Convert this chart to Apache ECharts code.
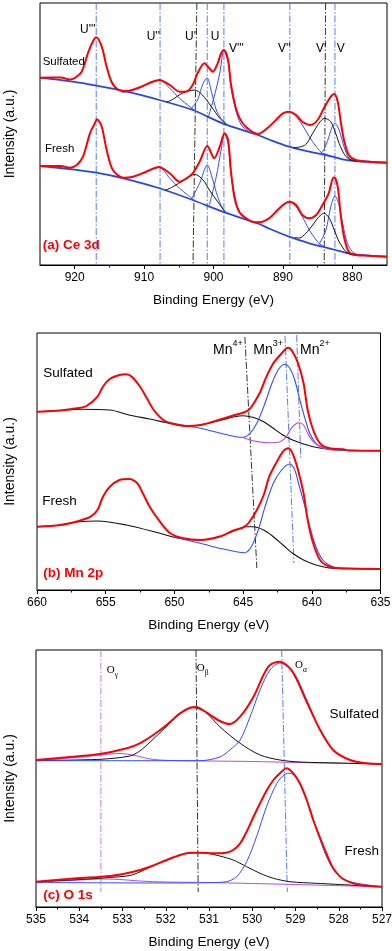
<!DOCTYPE html>
<html>
<head>
<meta charset="utf-8">
<title>XPS Ce 3d / Mn 2p / O 1s</title>
<script src="https://cdn.jsdelivr.net/npm/echarts@6/dist/echarts.min.js"></script>
<style>
  html, body { margin: 0; padding: 0; background: #fff; }
  #chart { width: 392px; height: 951px; }
</style>
</head>
<body>
<div id="chart"></div>
<script>
// ---------- (a) Ce 3d : [binding energy eV, intensity a.u.] ----------
const ceSulfEnv = [[925.0,187.3],[922.0,187.5],[920.7,185.5],[920.0,187],[919.0,193.3],[918.1,211.7],[917.4,223.3],[916.9,227.7],[916.1,218.3],[915.4,198.3],[914.7,183.3],[913.8,175.7],[912.5,174],[910.6,177.7],[908.8,183.3],[907.8,185],[906.3,180],[904.9,173.3],[903.9,173.5],[903.0,180],[902.3,191.7],[901.3,201.7],[900.6,196.7],[900.1,193.3],[899.4,201.7],[898.9,211.7],[898.5,215],[897.9,205],[897.5,181.7],[896.7,155],[895.8,141.7],[894.6,134],[893.6,131],[892.0,138.3],[891.0,145],[890.0,151.7],[889.1,153.3],[888.1,150],[887.2,143.3],[886.0,140],[885.0,145],[884.1,156.7],[883.1,168.3],[882.6,171],[882.1,163.3],[881.7,145],[881.2,125],[880.5,110],[879.5,105],[877.6,103.3],[875.0,102.3]];
const ceSulfBg = [[925.0,187.3],[920.3,183.3],[916.9,179.3],[912.5,173.3],[907.8,165],[903.0,155],[898.7,141.7],[893.6,130],[892.0,125.5],[889.1,118.3],[886.2,113.3],[883.8,110],[881.4,105.7],[879.5,104],[875.0,102.3]];
const ceSulfU2 = [[913.2,172.5],[912.0,173.8],[910.6,177.2],[908.8,183],[907.7,184.6],[906.3,176.7],[904.9,166.7],[903.4,158.3],[902.6,154]];
const ceSulfU1 = [[906.8,162.8],[905.9,165.5],[904.5,171.7],[902.7,175],[901.6,170],[900.3,158.3],[899.1,146.7],[898.2,141]];
const ceSulfU = [[903.3,155.5],[902.3,165],[901.5,181.7],[900.9,187],[900.3,173.3],[899.6,155],[898.9,146.7],[898.2,141.5]];
const ceSulfV3 = [[900.7,149],[899.9,168.3],[899.1,191.7],[898.5,214.3],[897.9,203.3],[897.5,178.3],[896.8,155],[896.0,140],[895.0,134]];
const ceSulfV2 = [[894.6,132.5],[893.6,131],[892.0,138.3],[891.0,145],[890.0,151.7],[889.1,153.3],[888.1,148.3],[887.2,140],[886.2,128.3],[885.2,118.3],[884.3,111.7],[883.5,109.8]];
const ceSulfV1 = [[888.5,117.3],[887.6,118],[886.7,120.5],[885.7,131.7],[884.8,141.7],[884.0,146.7],[883.1,143.3],[882.4,131.7],[881.7,118.3],[880.9,108.3],[880.0,104.5],[879.3,104]];
const ceSulfV = [[884.6,112],[884.3,113],[883.6,123.3],[882.9,138.3],[882.5,141.7],[881.9,135],[881.2,118.3],[880.5,106.7],[879.8,104.5]];

const ceFreshEnv = [[925.0,99],[922.0,99],[920.7,97.3],[919.7,100],[918.8,108.3],[917.8,131.7],[917.1,141.7],[916.8,145.7],[916.1,138.3],[915.4,115],[914.5,95],[913.0,87.3],[911.6,88.3],[909.7,93.3],[907.9,98],[906.3,91.7],[904.9,83.3],[903.9,86.7],[903.0,91.7],[902.0,103.3],[900.9,119],[900.2,110],[899.9,106.7],[899.1,118.3],[898.4,131.7],[897.9,125],[897.5,95],[897.0,68.3],[896.3,53.3],[895.3,46.7],[894.4,43.3],[893.4,42.7],[892.0,46.7],[891.0,53.3],[890.0,60],[889.1,63.3],[888.1,60],[887.2,50],[886.2,46.7],[885.2,50],[884.3,60],[883.4,71.7],[882.9,85],[882.6,87.7],[882.1,78.3],[881.7,51.7],[881.2,28.3],[880.5,13.3],[879.5,10],[877.6,9.3],[875.0,8.3]];
const ceFreshBg = [[925.0,99],[920.3,95.7],[916.9,92.3],[913.0,86.7],[907.9,77],[903.0,65],[898.7,53.3],[893.4,41],[892.0,36.5],[889.1,28.3],[886.2,21.7],[884.3,18.3],[882.4,15],[880.5,11.7],[877.6,9.3],[875.0,8.3]];
const ceFreshU2 = [[913.0,86.7],[911.6,88],[909.7,93],[907.8,97.5],[906.3,86.7],[904.9,76.7],[903.7,70],[902.8,65]];
const ceFreshU1 = [[907.0,74.5],[905.9,78],[904.2,85],[902.7,90.7],[901.5,85],[900.6,75],[899.4,63.3],[898.4,53.5]];
const ceFreshU = [[903.2,65.5],[902.0,81.7],[900.9,100],[900.1,85],[899.4,68.3],[898.7,56.7],[898.2,53]];
const ceFreshV3 = [[900.6,60],[899.6,88.3],[898.9,115],[898.4,131],[897.9,121.7],[897.5,91.7],[896.7,61.7],[896.0,50],[895.0,46]];
const ceFreshV2 = [[894.2,43],[893.4,42.7],[892.0,46.7],[891.0,53.3],[890.0,60],[889.1,63.3],[888.1,58.3],[887.2,48.3],[886.2,35],[885.2,25],[884.5,20],[883.9,18]];
const ceFreshV1 = [[888.3,27.5],[887.6,27],[886.7,31.7],[885.7,40],[884.8,48.3],[884.1,51.7],[883.3,46.7],[882.6,35],[881.9,23.3],[880.9,13.3],[880.0,10],[879.2,9.8]];
const ceFreshV = [[885.0,19.5],[884.8,20.5],[883.8,35],[883.1,58.3],[882.5,69],[881.9,60],[881.4,41.7],[880.7,21.7],[880.0,13.3],[879.5,11]];

const ceMarkTop = [916.9, 907.7, 902.4, 900.9, 898.5, 889.0, 883.85, 882.5];
const ceMarkBottom = [916.9, 907.7, 902.95, 900.9, 898.5, 889.0, 884.05, 882.5];
const ceMarkBlack = [false, false, true, false, false, false, true, false];
const ceLabels = ["U'''", "U''", "U'", "U", "V'''", "V''", "V'", "V"];
const ceTicks = [880, 890, 900, 910, 920];
const ceMinorTicks = [885, 895, 905, 915];

// ---------- (b) Mn 2p ----------
const mnSulfEnv = [[660.0,177.3],[658.3,178.5],[657.1,180.7],[656.4,183],[655.6,192.3],[655.2,202.3],[654.7,210],[654.0,214],[653.5,214.7],[653.1,212.3],[652.5,202.3],[652.0,190.7],[651.5,179],[650.8,169],[650.1,165.2],[649.1,163],[648.1,164],[646.9,168.5],[645.7,173.5],[645.0,176.3],[644.6,179],[644.3,184],[643.8,195.7],[643.3,212.3],[642.8,225.7],[642.3,234],[641.85,240.7],[641.7,241.3],[641.4,237.3],[641.0,225.7],[640.6,205.7],[640.3,179],[639.9,159],[639.4,145.7],[638.7,140.7],[637.7,139.7],[637.3,138.5],[635.0,138.3]];
const mnSulfBg = [[660.0,177.3],[658.3,178.5],[656.9,179.7],[654.7,179],[653.3,174],[651.8,170],[650.1,165],[649.1,163],[648.1,164],[646.7,168.5],[645.7,172],[645.0,173.3],[644.3,171.7],[643.5,167.3],[642.8,160.7],[642.1,154],[641.4,149],[640.6,145],[639.9,142.3],[638.9,140],[638.0,139],[635.0,138.3]];
const mnSulfMn3 = [[650.7,167],[648.1,160.7],[646.7,156],[645.5,152.3],[645.0,151.7],[644.5,155.7],[644.0,165.7],[643.5,182.3],[642.9,205.7],[642.45,219],[641.97,224.7],[641.6,220.7],[641.24,209],[640.9,190.7],[640.5,170.7],[640.15,155.7],[639.7,145.7],[639.2,141.7],[638.5,139.5],[637.5,138.5]];
const mnSulfMn2 = [[645.0,151.5],[644.3,148.3],[643.1,146.3],[642.3,147.3],[641.85,152.3],[641.5,160.7],[641.1,165.7],[640.9,166.3],[640.6,164],[640.3,155.7],[639.9,147.3],[639.4,142.3],[638.8,139.5],[638.0,138.8]];

const mnFreshEnv = [[660.0,62.3],[658.3,64],[656.9,68.3],[656.1,72.3],[655.6,79],[655.2,92.3],[654.7,102.3],[654.0,109],[653.3,110],[652.7,105.7],[652.3,95.7],[651.8,82.3],[651.05,67.3],[650.3,55.7],[649.35,50.7],[648.1,49],[646.7,52.5],[645.7,58.5],[645.0,61.5],[644.6,66],[644.0,79],[643.5,94],[643.1,112.3],[642.6,125.7],[642.1,137.3],[641.7,140.7],[641.4,135.7],[641.0,119],[640.6,95.7],[640.3,69],[639.9,45.7],[639.4,29],[638.7,22.3],[637.7,20.7],[635.0,20]];
const mnFreshBg = [[660.0,62.3],[658.3,64],[656.9,67.3],[655.6,68],[653.5,64],[651.05,55.7],[650.0,51.7],[648.9,49.5],[648.1,49],[646.7,52.3],[645.7,58],[644.75,62.3],[644.3,62.3],[643.5,59],[642.8,52.3],[642.1,44],[641.4,35.7],[640.6,29],[639.7,24],[638.5,20.7],[635.0,20]];
const mnFreshMn3 = [[650.1,52],[648.1,45.7],[646.7,40.7],[645.5,37.3],[644.9,36.3],[644.4,42.3],[643.9,59],[643.4,82.3],[642.8,105.7],[642.2,119],[641.6,125],[641.24,119],[640.9,102.3],[640.5,82.3],[640.15,62.3],[639.7,42.3],[639.2,29],[638.5,22.3],[637.6,20]];

const mnMarkTop = [644.87, 641.95, 641.1];
const mnMarkBottom = [644.0, 641.3, 640.8];
const mnMarkTopY = [252, 253, 254];
const mnMarkBottomY = [21, 26, 130];
const mnLabels = ['4+', '3+', '2+'];

// ---------- (c) O 1s ----------
const oSulfEnv = [[535.0,147],[534.29,149.7],[533.52,153],[532.9,158.7],[532.6,163.7],[532.29,172],[531.98,182],[531.67,193.7],[531.44,199.3],[531.3,200],[531.09,195.5],[530.75,186],[530.52,183],[530.28,190.3],[529.97,210.3],[529.74,232],[529.59,242],[529.36,245.3],[529.07,235.3],[528.76,207],[528.43,177],[528.13,157],[527.74,147],[527.35,143.7],[527.0,143]];
const oSulfOb = [[535.0,146.5],[533.52,147.7],[532.83,151],[532.6,156],[532.36,165],[532.02,179],[531.67,193],[531.37,199.3],[531.09,195],[530.75,180.3],[530.28,163.7],[529.82,152],[529.36,147],[528.9,145],[528.0,144],[527.0,143]];
const oSulfOg = [[535.0,146.5],[534.2,149],[533.52,152],[533.06,153.5],[532.71,151.5],[532.36,148],[531.9,146.5],[531.0,146],[530.0,145.5],[529.0,144.5],[528.0,143.7],[527.0,143]];
const oSulfOa = [[535.0,146.3],[533.0,146.3],[531.2,146.3],[530.75,150],[530.52,157],[530.28,167],[530.05,190.3],[529.82,217],[529.59,237],[529.36,244],[529.05,235],[528.74,207],[528.43,177],[528.13,157],[527.74,147],[527.35,143.7],[527.0,143]];

const oFreshEnv = [[535.0,25.3],[534.06,28.7],[533.29,31],[532.75,35.3],[532.36,40.3],[531.98,47],[531.67,52],[531.44,54.3],[531.21,54.3],[530.9,53.7],[530.6,54.3],[530.44,57],[530.28,63.7],[530.13,75.3],[529.97,90.3],[529.82,103.7],[529.66,117],[529.51,127],[529.36,133.7],[529.21,138.7],[529.05,133.7],[528.9,123.7],[528.74,107],[528.59,87],[528.43,69],[528.28,53],[528.13,39],[527.9,28],[527.51,22],[527.0,20.3]];
const oFreshOb = [[535.0,25.3],[533.98,27.5],[533.29,29.5],[532.83,31.5],[532.6,35],[532.36,40],[531.98,46.7],[531.67,52],[531.44,54],[531.21,54.3],[531.05,53.8],[530.75,51],[530.44,47],[530.13,40.3],[529.82,33.7],[529.51,28.7],[529.13,25.3],[528.51,23.7],[527.0,20.3]];
const oFreshOa = [[535.0,24.5],[532.0,24],[531.0,24.3],[530.6,25.3],[530.36,30.3],[530.13,45.3],[529.9,70.3],[529.67,100.3],[529.43,123.7],[529.24,133],[529.13,133.7],[528.97,128.7],[528.74,107],[528.51,77],[528.28,50],[528.05,33.5],[527.74,25.3],[527.0,20.3]];
const oFreshOg = [[535.0,25.3],[534.2,26.5],[533.52,28],[533.06,27.5],[532.6,26],[532.0,25],[531.0,24.5],[530.0,23.5],[529.0,22.5],[528.0,21.3],[527.0,20.3]];

const oMarkTop = [533.5, 531.3, 529.32];
const oMarkBottom = [533.5, 531.25, 529.19];
const oLabels = ['γ', 'β', 'α'];

// ---------- styling ----------
const RED = '#ff0000';
const BLUE = '#2f4dff';
const BASE_BLUE = '#2846e8';
const DASH_BLUE = '#5a78ff';
const BLACK = '#111111';
const MAGENTA = '#b54fd6';
const DASH_MAGENTA = '#c47de0';
const DASH = [7, 2, 1.5, 2];
const SANS = '"Liberation Sans", Arial, sans-serif';
const SERIF = '"Liberation Serif", "Times New Roman", serif';

// grid index -> main x axis index
const gridX = [0, 2, 3];

function curve(data, panel, color, width, z) {
  return {
    type: 'line', xAxisIndex: gridX[panel], yAxisIndex: panel, data: data,
    smooth: 0.3, symbol: 'none', silent: true, z: z,
    lineStyle: { color: color, width: width }
  };
}

function marker(eTop, eBottom, yTop, yBottom, panel, color) {
  return {
    type: 'line', xAxisIndex: gridX[panel], yAxisIndex: panel,
    data: [[eTop, yTop], [eBottom, yBottom]],
    symbol: 'none', silent: true, z: 1,
    lineStyle: { color: color, width: 1, type: DASH }
  };
}

const series = [];
// dash-dot reference lines
ceMarkTop.forEach((e, i) => series.push(marker(e, ceMarkBottom[i], 262, 1, 0, ceMarkBlack[i] ? '#333' : DASH_BLUE)));
mnMarkTop.forEach((e, i) => series.push(marker(e, mnMarkBottom[i], mnMarkTopY[i], mnMarkBottomY[i], 1, i === 0 ? '#333' : DASH_BLUE)));
const oMarkColors = [DASH_MAGENTA, '#333', DASH_BLUE];
oMarkTop.forEach((e, i) => series.push(marker(e, oMarkBottom[i], 257, 15, 2, oMarkColors[i])));

// (a) Ce 3d
[ceSulfBg, ceFreshBg].forEach(d => series.push(curve(d, 0, BASE_BLUE, 1.8, 3)));
[ceSulfU2, ceSulfU, ceSulfV3, ceSulfV2, ceSulfV, ceFreshU2, ceFreshU, ceFreshV3, ceFreshV2, ceFreshV]
  .forEach(d => series.push(curve(d, 0, BLUE, 1, 4)));
[ceSulfU1, ceSulfV1, ceFreshU1, ceFreshV1].forEach(d => series.push(curve(d, 0, BLACK, 1, 4)));
[ceSulfEnv, ceFreshEnv].forEach(d => series.push(curve(d, 0, RED, 2, 6)));

// (b) Mn 2p
[mnSulfBg, mnFreshBg].forEach(d => series.push(curve(d, 1, BLACK, 1.1, 3)));
[mnSulfMn3, mnFreshMn3].forEach(d => series.push(curve(d, 1, BLUE, 1.1, 4)));
series.push(curve(mnSulfMn2, 1, MAGENTA, 1.1, 4));
[mnSulfEnv, mnFreshEnv].forEach(d => series.push(curve(d, 1, RED, 2, 6)));

// (c) O 1s
[oSulfOg, oFreshOg].forEach(d => series.push(curve(d, 2, MAGENTA, 1, 3)));
[oSulfOb, oFreshOb].forEach(d => series.push(curve(d, 2, BLACK, 1, 4)));
[oSulfOa, oFreshOa].forEach(d => series.push(curve(d, 2, BLUE, 1, 4)));
[oSulfEnv, oFreshEnv].forEach(d => series.push(curve(d, 2, RED, 2, 6)));

// ---------- axes ----------
function energyAxis(grid, extra) {
  return Object.assign({
    gridIndex: grid, type: 'value', inverse: true, position: 'bottom',
    axisLine: { show: true, onZero: false, lineStyle: { color: '#000', width: 1 } },
    axisTick: { show: true, length: 4, lineStyle: { color: '#000' } },
    axisLabel: { fontSize: 12, color: '#000', margin: 7, fontFamily: SANS },
    splitLine: { show: false },
    name: 'Binding Energy (eV)', nameLocation: 'middle', nameGap: 28,
    nameTextStyle: { fontSize: 13.5, color: '#000', fontFamily: SANS }
  }, extra);
}

const xAxis = [
  energyAxis(0, {
    min: 875, max: 925,
    axisTick: { show: true, length: 4, customValues: ceTicks, lineStyle: { color: '#000' } },
    axisLabel: { fontSize: 12, color: '#000', margin: 7, fontFamily: SANS, customValues: ceTicks }
  }),
  {
    gridIndex: 0, type: 'value', inverse: true, position: 'bottom', min: 875, max: 925,
    axisLine: { show: false },
    axisTick: { show: true, length: 2.5, customValues: ceMinorTicks, lineStyle: { color: '#000' } },
    axisLabel: { show: false }, splitLine: { show: false }
  },
  energyAxis(1, {
    min: 635, max: 660, interval: 5,
    minorTick: { show: true, splitNumber: 2, length: 2.5, lineStyle: { color: '#000' } }
  }),
  energyAxis(2, {
    min: 527, max: 535, interval: 1,
    minorTick: { show: true, splitNumber: 2, length: 2.5, lineStyle: { color: '#000' } }
  })
];

function intensityAxis(grid, min, max, gap) {
  return {
    gridIndex: grid, type: 'value', min: min, max: max,
    axisLine: { show: false }, axisTick: { show: false }, axisLabel: { show: false },
    splitLine: { show: false },
    name: 'Intensity (a.u.)', nameLocation: 'middle', nameGap: gap,
    nameTextStyle: { fontSize: 14, color: '#000', fontFamily: SANS }
  };
}

const yAxis = [
  intensityAxis(0, 0, 262, 23),
  intensityAxis(1, -1, 256, 20),
  intensityAxis(2, 0, 257, 19)
];

// ---------- annotation text ----------
function txt(text, x, y, size, opts) {
  opts = opts || {};
  return {
    type: 'text', x: x, y: y, silent: true, z: 100,
    style: {
      text: text, fill: opts.color || '#000',
      font: (opts.bold ? 'bold ' : '') + size + 'px ' + (opts.family || SANS),
      align: opts.align || 'left', verticalAlign: 'middle'
    }
  };
}

const cePos = [[80, 29.5], [146.7, 36.5], [185, 36.5], [210.7, 36.5], [229, 49], [278, 49], [316, 49], [336.7, 49]];
const graphic = [];
ceLabels.forEach((t, i) => graphic.push(txt(t, cePos[i][0], cePos[i][1], 12)));
graphic.push(txt('Sulfated', 42.7, 62, 11.5));
graphic.push(txt('Fresh', 45, 149, 11.5));
graphic.push(txt('(a) Ce 3d', 42.7, 245.7, 13.5, { bold: true, color: RED }));

const mnPos = [213, 253.3, 300];
mnLabels.forEach((t, i) => {
  graphic.push(txt('Mn', mnPos[i], 350, 14));
  graphic.push(txt(t, mnPos[i] + 19.5, 343.5, 9));
});
graphic.push(txt('Sulfated', 43.3, 373, 13.5));
graphic.push(txt('Fresh', 42.3, 501.7, 13.5));
graphic.push(txt('(b) Mn 2p', 43.3, 573, 13.5, { bold: true, color: RED }));

const oPos = [[106.7, 670.5], [196.7, 668.5], [295, 665]];
oLabels.forEach((t, i) => {
  graphic.push(txt('O', oPos[i][0], oPos[i][1], 11, { family: SERIF }));
  graphic.push(txt(t, oPos[i][0] + 8, oPos[i][1] + 5, 7.5, { family: SERIF }));
});
graphic.push(txt('Sulfated', 379, 714, 13.5, { align: 'right' }));
graphic.push(txt('Fresh', 379, 851, 13.5, { align: 'right' }));
graphic.push(txt('(c) O 1s', 43.3, 895, 13.5, { bold: true, color: RED }));

const chart = echarts.init(document.getElementById('chart'), null, { renderer: 'canvas' });
chart.setOption({
  animation: false,
  backgroundColor: '#fff',
  textStyle: { fontFamily: SANS },
  grid: [
    { left: 40, right: 5, top: 3, bottom: 686, show: true, borderColor: '#000', borderWidth: 1, outerBoundsMode: 'none', containLabel: false },
    { left: 37, right: 11.5, top: 333, bottom: 361, show: true, borderColor: '#000', borderWidth: 1, outerBoundsMode: 'none', containLabel: false },
    { left: 36, right: 10, top: 650, bottom: 44, show: true, borderColor: '#000', borderWidth: 1, outerBoundsMode: 'none', containLabel: false }
  ],
  xAxis: xAxis,
  yAxis: yAxis,
  series: series,
  graphic: graphic
});
</script>
</body>
</html>
